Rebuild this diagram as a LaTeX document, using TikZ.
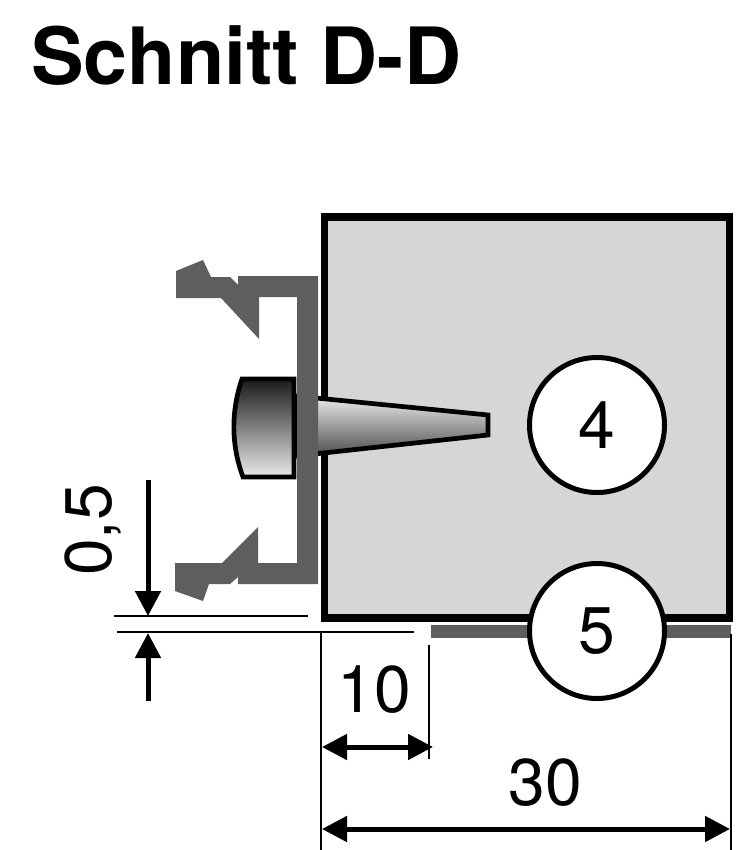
\documentclass[tikz,border=0pt]{standalone}
\usepackage{fontspec}
\setmainfont{TeX Gyre Heros}
\usepackage{tikz}
\usetikzlibrary{arrows.meta}
\definecolor{profil}{gray}{0.37}
\definecolor{flaeche}{gray}{0.84}
\tikzset{titel/.style={font=\fontsize{79}{79}\selectfont\bfseries,anchor=base west,inner sep=0pt}}
\tikzset{l/.style={font=\fontsize{66}{66}\selectfont,inner sep=0pt}}
\tikzset{kreis/.style={circle,draw=black,fill=white,line width=5pt,minimum size=135pt,inner sep=0pt,font=\fontsize{66}{66}\selectfont}}
\tikzset{mass/.style={line width=1.8pt}}
\tikzset{pfeil/.style={line width=5pt,-{Triangle[length=25pt,width=25pt]}}}
\tikzset{doppel/.style={line width=5pt,{Triangle[length=25pt,width=25pt]}-{Triangle[length=25pt,width=25pt]}}}

\begin{document}
\begin{tikzpicture}[x=1pt,y=-1pt]
  \useasboundingbox (0,0) rectangle (752,850);
  \node[titel] (titel) at (31,85) {Schnitt D-D};
  % kasten
  \filldraw[black,fill=flaeche,line width=7.5pt] (324.5,217) rectangle (729.5,618);
  % konus
  \draw[black,line width=4.7pt,top color=gray!15!white,bottom color=black!70] (296,396) -- (488,415) -- (488,435) -- (296,456) -- cycle;
  % kopf
  \draw[black,line width=4.7pt,top color=black!90,bottom color=black!8] (242,379) -- (294,379) -- (294,477) -- (243,477) .. controls (231,445) and (231,411) .. (242,379) -- cycle;
  % profil
  \fill[profil] (176,271) -- (203,260) -- (211,277) -- (230,277) -- (238,285) -- (238,276) -- (318,276)
    -- (318,584) -- (238,584) -- (238,577) -- (230,584) -- (209,584) -- (203,601) -- (175,591) -- (175,563)
    -- (222,563) -- (258,527) -- (258,563) -- (297,563) -- (297,297) -- (259,297) -- (259,339) -- (221,298)
    -- (176,298) -- cycle;
  % blech
  \fill[profil] (431,625) rectangle (731,638);
  \node[kreis] (vier) at (597,425) {4};
  \node[kreis] (fuenf) at (597,631) {5};
  % masslinien
  \coordinate (a1) at (114,616);
  \coordinate (a2) at (308,616);
  \coordinate (b1) at (117,632);
  \coordinate (b2) at (414,632);
  \draw[mass] (a1) -- (a2);
  \draw[mass] (b1) -- (b2);
  \coordinate (c1) at (321,632);
  \coordinate (c2) at (321,850);
  \coordinate (d1) at (429,645);
  \coordinate (d2) at (429,759);
  \coordinate (e1) at (731,634);
  \coordinate (e2) at (731,850);
  \draw[mass] (c1) -- (c2);
  \draw[mass] (d1) -- (d2);
  \draw[mass] (e1) -- (e2);
  \coordinate (f1) at (148,480);
  \coordinate (f2) at (148,616);
  \coordinate (g1) at (148,701);
  \coordinate (g2) at (148,633);
  \draw[pfeil] (f1) -- (f2);
  \draw[pfeil] (g1) -- (g2);
  \coordinate (h1) at (322,747);
  \coordinate (h2) at (433,747);
  \coordinate (i1) at (322,829);
  \coordinate (i2) at (730,829);
  \draw[doppel] (h1) -- (h2);
  \draw[doppel] (i1) -- (i2);
  \node[l,rotate=90] (halb) at (93,530) {0,5};
  \node[l] (zehn) at (374,690) {10};
  \node[l] (dreissig) at (545,783) {30};
\end{tikzpicture}
\end{document}
